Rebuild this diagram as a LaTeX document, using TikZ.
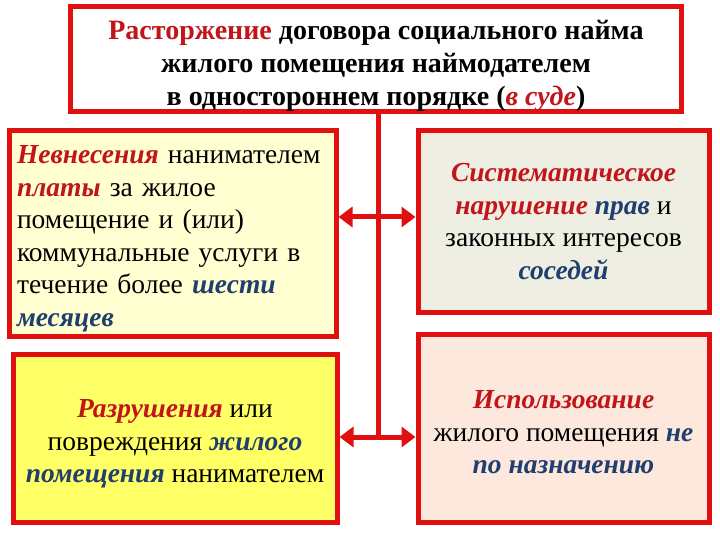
\documentclass[tikz,border=0pt]{standalone}
\usepackage{fontspec}
\setmainfont{Liberation Serif}
\usetikzlibrary{arrows.meta}

\definecolor{frame}{HTML}{E01010}
\definecolor{hlred}{HTML}{C0161B}
\definecolor{hlblue}{HTML}{1F3F6E}
\definecolor{one}{HTML}{FFFFD2}
\definecolor{two}{HTML}{EEEEE2}
\definecolor{three}{HTML}{FFFF66}
\definecolor{four}{HTML}{FCE8DC}

\newcommand{\hlr}[1]{\textcolor{hlred}{\textbf{\textit{#1}}}}
\newcommand{\hlb}[1]{\textcolor{hlblue}{\textbf{\textit{#1}}}}
\newcommand{\lift}[1]{\rule{0pt}{#1}}

\tikzset{
  box/.style={draw=frame, line width=5pt, inner sep=0pt, font=\fontsize{27.5}{32.5}\selectfont},
  link/.style={draw=frame, line width=5pt},
  biarrow/.style={link, {Triangle[width=20pt,length=14pt]}-{Triangle[width=20pt,length=14pt]}}
}

\begin{document}
\begin{tikzpicture}[x=1pt,y=-1pt]
\useasboundingbox (0,0) rectangle (720,540);

\draw[solid]

(376,59) node[box, fill=white, minimum width=611, minimum height=100, align=center,
  font=\bfseries\fontsize{28}{33}\selectfont] (top)
  {\lift{33pt}\textcolor{hlred}{Расторжение} договора социального найма\\
   жилого помещения наймодателем\\
   в одностороннем порядке (\textcolor{hlred}{\textit{в суде}})}

(172.5,233.5) node[box, fill=one, minimum width=327, minimum height=205,
  text width=311, align=left] (L1)
  {\lift{28pt}\hlr{Невнесения} нанимателем\\
   \hlr{платы} за жилое\\
   помещение и (или)\\
   коммунальные услуги в\\
   течение более \hlb{шести}\\
   \hlb{месяцев}}

(563.5,221.5) node[box, fill=two, minimum width=291, minimum height=181, align=center] (R1)
  {\hlr{Систематическое}\\
   \hlr{нарушение} \hlb{прав} и\\
   законных интересов\\
   \hlb{соседей}}

(175,438) node[box, fill=three, minimum width=324, minimum height=168, align=center] (L2)
  {\lift{30pt}\hlr{Разрушения} или\\
   повреждения \hlb{жилого}\\
   \hlb{помещения} нанимателем}

(563.5,428) node[box, fill=four, minimum width=291, minimum height=188, align=center] (R2)
  {\lift{27pt}\hlr{Использование}\\
   жилого помещения \hlb{не}\\
   \hlb{по назначению}};

\coordinate (j1) at (378,217);
\coordinate (j2) at (378,437);
\draw[link] (top.south -| j2) -- (j2);
\draw[biarrow] (L1.east |- j1) -- (R1.west |- j1);
\draw[biarrow] (L2.east |- j2) -- (R2.west |- j2);
\end{tikzpicture}
\end{document}
